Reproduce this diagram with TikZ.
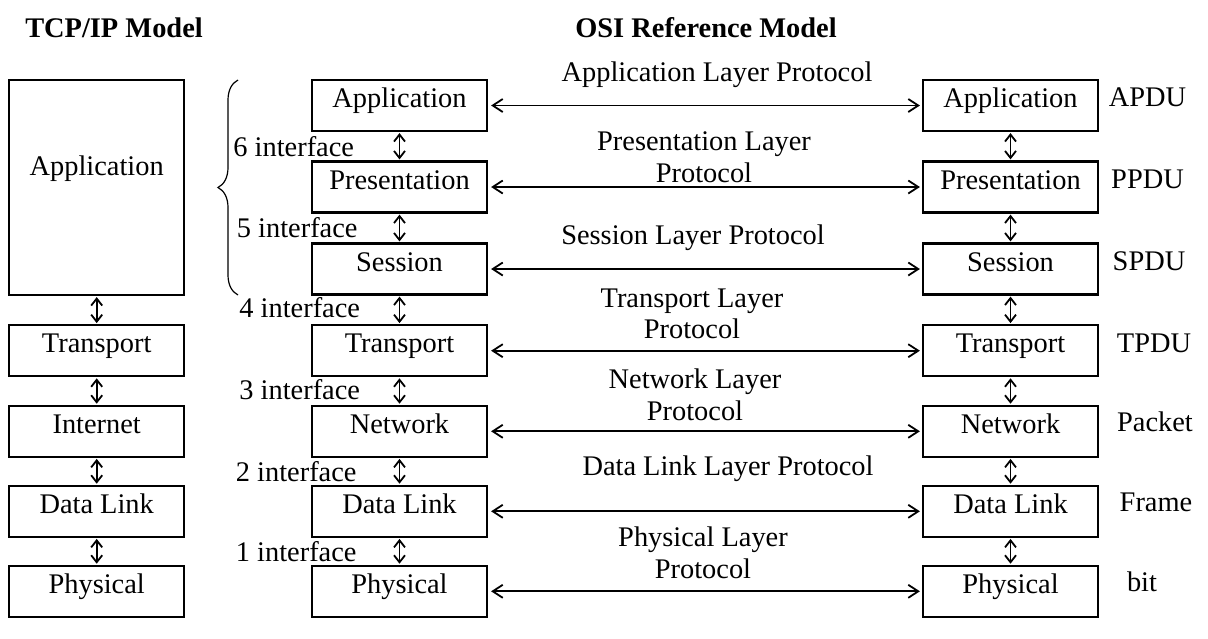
\documentclass[tikz,border=0pt]{standalone}
\usepackage{fontspec}
\setmainfont{Liberation Serif}
\usetikzlibrary{arrows.meta,decorations.pathreplacing}

\begin{document}
\begin{tikzpicture}[x=0.5pt,y=-0.5pt,
  every node/.style={font=\fontsize{14.2pt}{15.8pt}\selectfont, inner sep=0pt},
  layer/.style={draw, line width=1.1pt, minimum width=87.5pt, minimum height=25.5pt,
                text height=10pt, text depth=8pt},
  tall/.style={draw, line width=1.1pt, minimum width=87.5pt, minimum height=107.5pt},
  title/.style={font=\fontsize{14.2pt}{15.8pt}\selectfont\bfseries, anchor=base},
  proto/.style={align=center},
  iface/.style={anchor=west},
  pdu/.style={anchor=base},
  peer/.style={line width=0.9pt,
    {Straight Barb[length=5pt,width=6.5pt]}-{Straight Barb[length=5pt,width=6.5pt]},
    shorten <=1.5pt, shorten >=1pt},
  stack/.style={line width=0.9pt,
    {Straight Barb[length=3.5pt,width=5.5pt]}-{Straight Barb[length=3.5pt,width=5.5pt]},
    shorten <=0.5pt, shorten >=0.5pt},
  groupbrace/.style={decorate, decoration={brace, amplitude=10pt}, line width=0.6pt}]

\useasboundingbox (0,0) rectangle (1208,638);

% headings
\node[title] (tcptitle) at (114,37) {TCP/IP Model};
\node[title] (osititle) at (706,37) {OSI Reference Model};

% TCP/IP stack
\node[tall] (tapp) at (96.7,187.5) {};
\node (tapptext) [anchor=base] at (96.7,175) {Application};
\node[layer] (ttra) at (96.7,350.7) {Transport};
\node[layer] (tint) at (96.7,431.3) {Internet};
\node[layer] (tdl)  at (96.7,511.3) {Data Link};
\node[layer] (tphy) at (96.7,591.3) {Physical};

\draw[stack] (tapp.south) -- (ttra.north);
\draw[stack] (ttra.south) -- (tint.north);
\draw[stack] (tint.south) -- (tdl.north);
\draw[stack] (tdl.south)  -- (tphy.north);

% OSI stack, local side
\node[layer] (la) at (399.5,105.5) {Application};
\node[layer] (lp) at (399.5,187)   {Presentation};
\node[layer] (ls) at (399.5,269)   {Session};
\node[layer] (lt) at (399.5,350.7) {Transport};
\node[layer] (ln) at (399.5,431.3) {Network};
\node[layer] (ld) at (399.5,511.3) {Data Link};
\node[layer] (lh) at (399.5,591.3) {Physical};

\draw[stack] (la.south) -- (lp.north);
\draw[stack] (lp.south) -- (ls.north);
\draw[stack] (ls.south) -- (lt.north);
\draw[stack] (lt.south) -- (ln.north);
\draw[stack] (ln.south) -- (ld.north);
\draw[stack] (ld.south) -- (lh.north);

% OSI stack, remote side
\node[layer] (ra) at (1010.5,105.5) {Application};
\node[layer] (rp) at (1010.5,187)   {Presentation};
\node[layer] (rs) at (1010.5,269)   {Session};
\node[layer] (rt) at (1010.5,350.7) {Transport};
\node[layer] (rn) at (1010.5,431.3) {Network};
\node[layer] (rd) at (1010.5,511.3) {Data Link};
\node[layer] (rh) at (1010.5,591.3) {Physical};

\draw[stack] (ra.south) -- (rp.north);
\draw[stack] (rp.south) -- (rs.north);
\draw[stack] (rs.south) -- (rt.north);
\draw[stack] (rt.south) -- (rn.north);
\draw[stack] (rn.south) -- (rd.north);
\draw[stack] (rd.south) -- (rh.north);

% peer protocols
\draw[peer] (la.east) -- (ra.west);
\draw[peer] (lp.east) -- (rp.west);
\draw[peer] (ls.east) -- (rs.west);
\draw[peer] (lt.east) -- (rt.west);
\draw[peer] (ln.east) -- (rn.west);
\draw[peer] (ld.east) -- (rd.west);
\draw[peer] (lh.east) -- (rh.west);

\node[proto] (pa) at (717,75)    {Application Layer Protocol};
\node[proto] (pp) at (704,157.5) {Presentation Layer\\Protocol};
\node[proto] (ps) at (693,238)   {Session Layer Protocol};
\node[proto] (pt) at (692,314)   {Transport Layer\\Protocol};
\node[proto] (pn) at (695,394.5) {Network Layer\\Protocol};
\node[proto] (pd) at (728,469)   {Data Link Layer Protocol};
\node[proto] (ph) at (703,552.5) {Physical Layer\\Protocol};

% interfaces between adjacent layers
\node[iface] (i6) at (233,147)   {6 interface};
\node[iface] (i5) at (236.5,228) {5 interface};
\node[iface] (i4) at (239,308)   {4 interface};
\node[iface] (i3) at (239,390)   {3 interface};
\node[iface] (i2) at (235.5,471.5) {2 interface};
\node[iface] (i1) at (235.5,551.5) {1 interface};

% upper three OSI layers grouped
\draw[groupbrace] (238,295) -- (238,80);

% data units
\node[pdu] (uA) at (1147.5,106.7) {APDU};
\node[pdu] (uP) at (1147.5,188)   {PPDU};
\node[pdu] (uS) at (1149,270)     {SPDU};
\node[pdu] (uT) at (1154,352)     {TPDU};
\node[pdu] (uN) at (1155,431.7)   {Packet};
\node[pdu] (uD) at (1156,511.7)   {Frame};
\node[pdu] (uH) at (1142,591.7)   {bit};

\end{tikzpicture}
\end{document}
